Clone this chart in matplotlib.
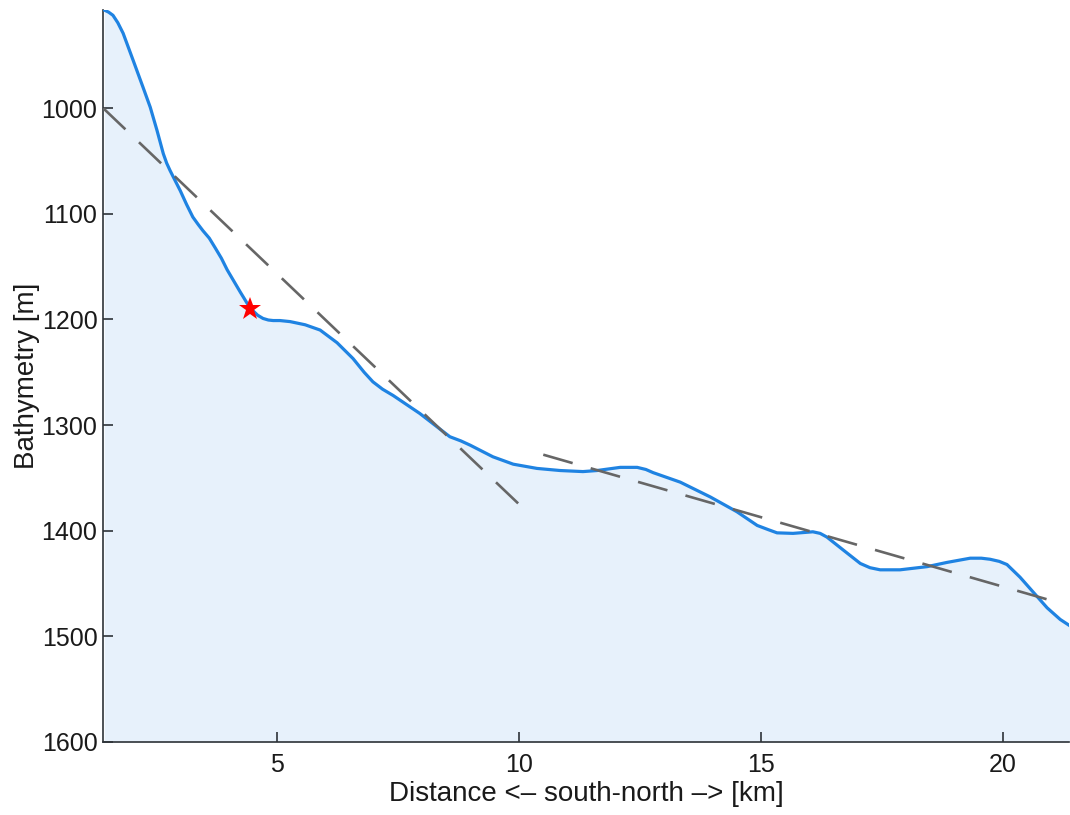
import matplotlib
matplotlib.use("Agg")
import matplotlib.pyplot as plt

# Bathymetry profile (distance km, depth m)
distance_km = [1.43, 1.52, 1.61, 1.71, 1.82, 2.03, 2.23, 2.38, 2.52, 2.65, 2.72, 2.79, 2.90,
               3.00, 3.13, 3.26, 3.37, 3.47, 3.60, 3.72, 3.85, 3.97, 4.24, 4.44, 4.60,
               4.71, 4.82, 4.92, 5.06, 5.27, 5.58, 5.89, 6.24, 6.57, 6.80, 6.98, 7.18,
               7.40, 7.95, 8.57, 8.80, 8.99, 9.46, 9.88, 10.37, 10.85, 11.32, 11.61,
               12.09, 12.44, 12.62, 12.77, 13.33, 13.95, 14.50, 14.92, 15.15, 15.33,
               15.66, 16.07, 16.22, 16.36, 16.69, 17.05, 17.25, 17.46, 17.87, 18.43,
               18.84, 19.32, 19.55, 19.73, 19.92, 20.08, 20.35, 20.62, 20.91, 21.18,
               21.38]
depth_m = [907, 909, 912, 919, 929, 955, 980, 999, 1021, 1043, 1052, 1059, 1069,
           1078, 1091, 1103, 1110, 1116, 1123, 1132, 1142, 1153, 1174, 1189, 1196,
           1199, 1200.5, 1201, 1201, 1202, 1205, 1210, 1222, 1237, 1250, 1259, 1266,
           1272, 1289, 1311, 1315, 1319, 1330, 1337, 1341, 1343, 1344, 1343,
           1340, 1340, 1342, 1345, 1354, 1368, 1382, 1395, 1399, 1402,
           1402.5, 1401, 1402.5, 1406, 1418, 1431, 1435, 1437, 1437, 1434,
           1430, 1426, 1426, 1427, 1429, 1432, 1444, 1458, 1473, 1484,
           1490]

# Trend lines (endpoints)
trend1_x = [1.41, 10.23]
trend1_y = [1000, 1385]
trend2_x = [10.50, 21.14]
trend2_y = [1328, 1468]

# Marker
star_x = [4.44]
star_y = [1190]

x_ticks = [5, 10, 15, 20]
y_ticks = [1000, 1100, 1200, 1300, 1400, 1500, 1600]

plt.rcParams['font.family'] = ['Liberation Sans', 'DejaVu Sans']

fig = plt.figure(figsize=(10.7, 8.15), dpi=100)
ax = fig.add_axes([0.0963, 0.0896, 0.9027, 0.8981])

ymax = 1600
ax.fill_between(distance_km, depth_m, ymax, color='#e7f1fb', linewidth=0, zorder=1)
ax.plot(distance_km, depth_m, color='#1f83e2', linewidth=2.3, zorder=3,
        solid_capstyle='round', solid_joinstyle='round')

lw_d = 1.9
ax.plot(trend1_x, trend1_y, color='#666666', linewidth=lw_d,
        linestyle=(0, (22.0 / lw_d, 13.5 / lw_d)), zorder=4)
ax.plot(trend2_x, trend2_y, color='#666666', linewidth=lw_d,
        linestyle=(0, (22.0 / lw_d, 13.5 / lw_d)), zorder=4)

ax.plot(star_x, star_y, marker='*', color='#ff0000', markersize=17,
        markeredgewidth=0, linestyle='none', zorder=5)

ax.set_xlim(1.405, 21.36)
ax.set_ylim(1600, 907)
ax.set_xticks(x_ticks)
ax.set_yticks(y_ticks)

for s in ['top', 'right']:
    ax.spines[s].set_visible(False)
for s in ['left', 'bottom']:
    ax.spines[s].set_color('#2e3338')
    ax.spines[s].set_linewidth(1.2)

ax.tick_params(direction='in', length=7, width=1.2, color='#2e3338',
               labelsize=18, labelcolor='#1a1a1a')
ax.tick_params(axis='x', pad=8)
ax.tick_params(axis='y', pad=4)

ax.set_xlabel('Distance <– south-north –> [km]', fontsize=20, color='#1a1a1a', labelpad=3)
ax.set_ylabel('Bathymetry [m]', fontsize=20, color='#1a1a1a', labelpad=1.5)

fig.savefig('out.png', dpi=100)
